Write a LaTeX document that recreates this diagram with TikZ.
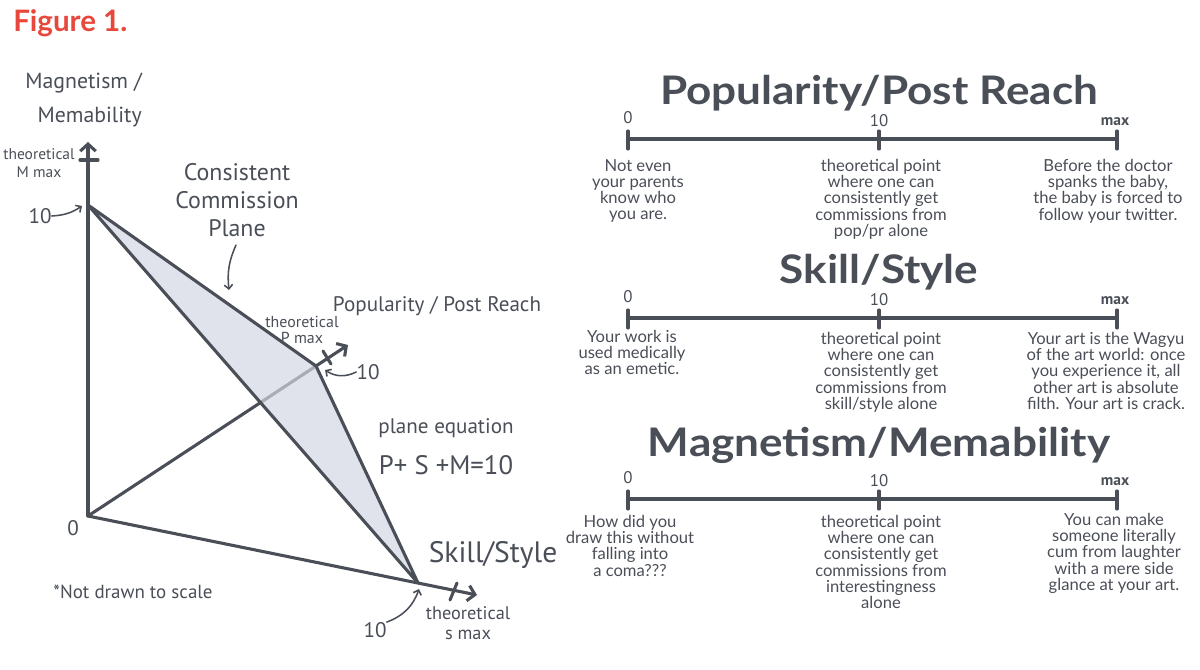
\documentclass[tikz,border=0pt]{standalone}
\usepackage{fontspec}
\setmainfont{Lato}
\newfontfamily\titlefont{Lato}[FakeStretch=1.12]
\newfontfamily\handfont{PT Sans}
\usetikzlibrary{arrows.meta,calc}
\definecolor{ink}{HTML}{4A4E57}
\definecolor{planegray}{HTML}{E0E3EB}
\definecolor{hidden}{HTML}{A9ACB2}
\definecolor{figred}{HTML}{E8473C}

\tikzset{
  axis/.style={ink, line width=2.2pt, line cap=round, line join=round},
  barb/.style={-{Straight Barb[length=5pt,width=11pt]}},
  pointer/.style={ink, line width=1.1pt, line cap=round, -{Straight Barb[length=3pt,width=6pt]}},
  hand/.style={ink, font=\handfont\fontsize{15}{20}\selectfont, inner sep=0pt, align=center},
  small/.style={ink, font=\handfont\fontsize{11}{12.5}\selectfont, inner sep=0pt, align=center},
  note/.style={ink, font=\fontsize{11.8}{11.5}\selectfont, inner sep=0pt, align=center, anchor=north},
  scaletitle/.style={ink, font=\titlefont\fontsize{28}{30}\selectfont\bfseries, inner sep=0pt},
  ticklbl/.style={ink, font=\handfont\fontsize{12}{14}\selectfont, inner sep=0pt},
}

\begin{document}
\begin{tikzpicture}[x=0.025cm, y=-0.025cm]
\useasboundingbox (0,0) rectangle (1200,669);

\node[figred, anchor=west, inner sep=0pt, font=\fontsize{21}{24}\selectfont\bfseries] (fig) at (13,23) {Figure 1.};

% axes and the plane
\coordinate (O) at (88,516);
\coordinate (M10) at (88,205);
\coordinate (P10) at (316,366);
\coordinate (S10) at (418,583);
\coordinate (Mtip) at (88,142);
\coordinate (Ptip) at (348,345);
\coordinate (Stip) at (477,595);
\coordinate (Pbehind) at (intersection of O--P10 and M10--S10);

\fill[planegray] (M10) -- (P10) -- (S10) -- cycle;
\draw[axis, hidden] (Pbehind) -- (P10);
\draw[axis] (O) -- (Pbehind);
\draw[axis, barb] (P10) -- (Ptip);
\draw[axis, barb] (O) -- (Mtip);
\draw[axis, barb] (O) -- (Stip);
\draw[axis] (M10) -- (P10) -- (S10) -- (M10);

\draw[axis] (80,160) -- (98,160);
\draw[axis] (323,351) -- (331,364);
\draw[axis] (457,583) -- (450,600);

\node[hand, align=right, anchor=east, font=\handfont\fontsize{15.5}{24}\selectfont] (mlbl) at (142,100) {Magnetism /\\Memability};
\node[small] (mmax) at (39,163) {theoretical\\M max};
\node[hand] (m10lbl) at (40,216) {10};
\node[hand, font=\handfont\fontsize{17}{20}\selectfont] (planelbl) at (237,200) {Consistent\\Commission\\Plane};
\node[hand] (plbl) at (437,306) {Popularity / Post Reach};
\node[small, font=\handfont\fontsize{11.3}{11}\selectfont] (pmax) at (302,330) {theoretical\\P max};
\node[hand] (p10lbl) at (368,372) {10};
\node[hand] (eqlbl) at (446,428) {plane equation};
\node[hand, font=\handfont\fontsize{19}{20}\selectfont] (eq) at (446,465) {P+ S +M=10};
\node[hand, font=\handfont\fontsize{21}{22}\selectfont] (slbl) at (493,555) {Skill/Style};
\node[small, font=\handfont\fontsize{13}{14}\selectfont] (smax) at (468,623) {theoretical\\s max};
\node[hand] (s10lbl) at (375,630) {10};
\node[hand] (olbl) at (73,528) {0};
\node[hand, font=\handfont\fontsize{13.5}{15}\selectfont] (scalenote) at (133,592) {*Not drawn to scale};

\draw[pointer] (m10lbl.east) to[bend right=15] ($(M10)+(-6,1)$);
\draw[pointer] (planelbl.south) ++(-1,8) to[bend right=15] (229,290);
\draw[pointer] (p10lbl.west) to[bend left=30] ($(P10)+(9,4)$);
\draw[pointer] (s10lbl.north east) to[bend right=25] ($(S10)+(1,6)$);

% the three scales
\foreach \n/\ty/\ly/\t in {pop/93/139/{Popularity/Post Reach}, skill/272/318/{Skill/Style}, mag/445/499/{Magnetism/Memability}} {
  \node[scaletitle] (\n-title) at (879,\ty) {\t};
  \coordinate (\n-0) at (628,\ly);
  \coordinate (\n-10) at (879,\ly);
  \coordinate (\n-max) at (1117,\ly);
  \draw[axis] (\n-0) -- (\n-max);
  \foreach \p in {0,10,max}
    \draw[axis] (\n-\p) ++(0,-8) -- ++(0,18);
  \node[ticklbl] (\n-0lbl) at ($(\n-0)+(0,-21)$) {0};
  \node[ticklbl] (\n-10lbl) at ($(\n-10)+(0,-18)$) {10};
  \node[ticklbl, font=\handfont\bfseries\fontsize{11}{12}\selectfont] (\n-maxlbl) at ($(\n-max)+(-2,-17)$) {max};
}

\node[note] (pop-l) at (638,159) {Not even\\your parents\\know who\\you are.};
\node[note] (pop-m) at (881,159) {theoretical point\\where one can\\consistently get\\commissions from\\pop/pr alone};
\node[note] (pop-r) at (1108,159) {Before the doctor\\spanks the baby,\\the baby is forced to\\follow your twitter.};

\node[note] (skill-l) at (632,330) {Your work is\\used medically\\as an emetic.};
\node[note] (skill-m) at (881,332) {theoretical point\\where one can\\consistently get\\commissions from\\skill/style alone};
\node[note] (skill-r) at (1106,332) {Your art is the Wagyu\\of the art world: once\\you experience it, all\\other art is absolute\\filth. Your art is crack.};

\node[note] (mag-l) at (630,515) {How did you\\draw this without\\falling into\\a coma???};
\node[note] (mag-m) at (881,515) {theoretical point\\where one can\\consistently get\\commissions from\\interestingness\\alone};
\node[note] (mag-r) at (1114,513) {You can make\\someone literally\\cum from laughter\\with a mere side\\glance at your art.};

\end{tikzpicture}
\end{document}
